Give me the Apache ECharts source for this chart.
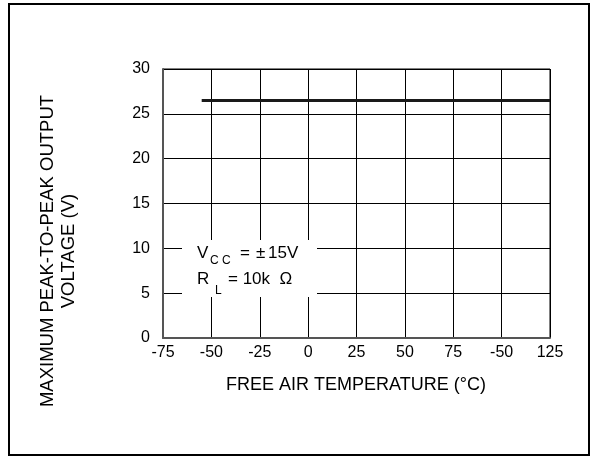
<!DOCTYPE html>
<html>
<head>
<meta charset="utf-8">
<script src="https://cdn.jsdelivr.net/npm/echarts@6/dist/echarts.min.js"></script>
<style>
html,body{margin:0;padding:0;background:#fff;}
#chart{width:597px;height:462px;}
</style>
</head>
<body>
<div id="chart"></div>
<script>
// Data
var temperature = [-55, 125];          // °C
var outputVoltage = [26.5, 26.5];      // V (peak-to-peak)
var xTickLabels = ['-75', '-50', '-25', '0', '25', '50', '75', '-50', '125'];
var yTickLabels = ['0', '5', '10', '15', '20', '25', '30'];
var xTitle = 'FREE AIR TEMPERATURE (°C)';
var yTitle = ['MAXIMUM PEAK-TO-PEAK OUTPUT', 'VOLTAGE (V)'];

var FONT = '"Liberation Sans", Arial, Helvetica, sans-serif';

var chart = echarts.init(document.getElementById('chart'), null, {renderer: 'canvas'});

function txt(x, y, s, size) {
  return {type: 'text', x: x, y: y, z: 51,
    style: {text: s, font: size + 'px ' + FONT, fill: '#000', verticalAlign: 'bottom'}};
}

var option = {
  animation: false,
  backgroundColor: '#fff',
  grid: {
    left: 163, top: 69, width: 387, height: 269,
    show: true, borderColor: '#000', borderWidth: 1, backgroundColor: 'transparent'
  },
  xAxis: {
    type: 'value', min: -75, max: 125, interval: 25,
    axisLine: {show: true, onZero: false, lineStyle: {color: '#555', width: 2}},
    axisTick: {show: false},
    axisLabel: {
      margin: 7, color: '#000', fontSize: 16, fontFamily: FONT,
      formatter: function (v) { return xTickLabels[Math.round((v + 75) / 25)]; }
    },
    splitLine: {show: true, lineStyle: {color: '#000', width: 1}}
  },
  yAxis: {
    type: 'value', min: 0, max: 30, interval: 5,
    axisLine: {show: true, onZero: false, lineStyle: {color: '#555', width: 2}},
    axisTick: {show: false},
    axisLabel: {
      margin: 13, color: '#000', fontSize: 16, fontFamily: FONT,
      formatter: function (v) { return yTickLabels[Math.round(v / 5)]; }
    },
    splitLine: {show: true, lineStyle: {color: '#000', width: 1}}
  },
  series: [{
    type: 'line',
    data: temperature.map(function (t, i) { return [t, outputVoltage[i]]; }),
    showSymbol: false, symbol: 'none',
    lineStyle: {color: '#1a1a1a', width: 3},
    z: 5
  }],
  graphic: [
    {type: 'rect', shape: {x: 9, y: 4, width: 580, height: 451},
     style: {fill: 'none', stroke: '#000', lineWidth: 2}, z: 100},
    // annotation box
    {type: 'rect', shape: {x: 182, y: 240, width: 135, height: 57},
     style: {fill: '#fff'}, z: 50},
    txt(197, 262, 'V', 17),
    txt(210, 267, 'C C', 12),
    txt(240, 262, '=', 17),
    txt(256, 262, '±', 17),
    txt(268, 262, '15V', 17),
    txt(197, 288, 'R', 17),
    txt(215, 297, 'L', 12),
    txt(228, 288, '= 10k  Ω', 17),
    // axis titles
    {type: 'text', x: 356, y: 385, z: 51,
     style: {text: xTitle, font: '18px ' + FONT, fill: '#000', align: 'center', verticalAlign: 'middle'}},
    {type: 'text', x: 58, y: 251, rotation: Math.PI / 2, z: 51,
     style: {text: yTitle.join('\n'), font: '18.5px ' + FONT, lineHeight: 21, fill: '#000', align: 'center', verticalAlign: 'middle'}}
  ]
};
chart.setOption(option);
</script>
</body>
</html>
